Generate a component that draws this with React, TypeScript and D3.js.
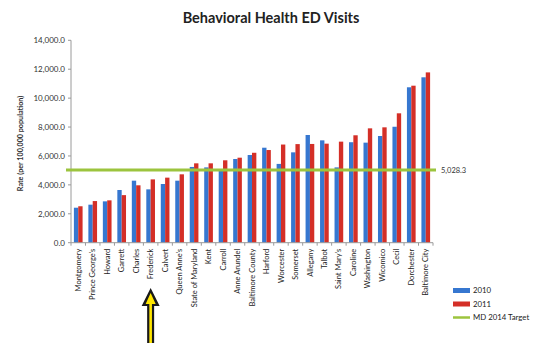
import React from "react";
import * as d3 from "d3";

const categories = [
  "Montgomery", "Prince George's", "Howard", "Garrett", "Charles", "Frederick",
  "Calvert", "Queen Anne's", "State of Maryland", "Kent", "Carroll", "Anne Arundel",
  "Baltimore County", "Harford", "Worcester", "Somerset", "Allegany", "Talbot",
  "Saint Mary's", "Caroline", "Washington", "Wicomico", "Cecil", "Dorchester",
  "Baltimore City",
];
const values2010 = [
  2420, 2630, 2860, 3645, 4290, 3690, 4060, 4290, 5240, 5210, 5050, 5790,
  6065, 6570, 5450, 6250, 7450, 7080, 5210, 6950, 6920, 7380, 8020, 10750, 11440,
];
const values2011 = [
  2520, 2880, 2930, 3290, 3970, 4380, 4500, 4730, 5490, 5490, 5700, 5880,
  6220, 6410, 6790, 6820, 6830, 6850, 6990, 7430, 7910, 7980, 8950, 10860, 11780,
];
const targetValue = 5028.3;
const yTicks = [0, 2000, 4000, 6000, 8000, 10000, 12000, 14000];
const seriesNames = ["2010", "2011", "MD 2014 Target"];
const highlighted = "Frederick";

const W = 538;
const H = 351;
const plot = { left: 71, right: 433, top: 40.3, bottom: 242.7 };
const FONT = "Lato, 'Liberation Sans', sans-serif";
const BLUE = "#3677d0";
const RED = "#d42f27";
const GREEN = "#9cc43e";

export default function App() {
  const x0 = d3.scaleBand<string>().domain(categories).range([plot.left, plot.right]).paddingInner(0.4).paddingOuter(0.2);
  const x1 = d3.scaleBand<string>().domain(["2010", "2011"]).range([0, x0.bandwidth()]);
  const y = d3.scaleLinear().domain([0, 14000]).range([plot.bottom, plot.top]);
  const fmt = d3.format(",.1f");
  const bounds = d3.range(categories.length + 1).map((i) => plot.left + i * ((plot.right - plot.left) / categories.length));
  const center = (c: string) => (x0(c) as number) + x0.bandwidth() / 2;
  const arrowX = center(highlighted);
  const rows = categories.map((c, i) => ({ c, a: values2010[i], b: values2011[i] }));

  return (
    <div style={{ margin: -8 }}>
      <svg width={W} height={H} style={{ display: "block", background: "#fff" }}>
        <path d={`M3.5,${H - 30} V3.5 H${W - 3.5} V${H - 30}`} fill="none" stroke="#ececec" />
        <text x={271} y={23} textAnchor="middle" fontFamily={FONT} fontWeight={700} fontSize={14.5} fill="#222">
          Behavioral Health ED Visits
        </text>

        {/* value axis */}
        <line x1={plot.left} x2={plot.left} y1={plot.top} y2={plot.bottom} stroke="#9a9a9a" />
        {yTicks.map((t) => (
          <g key={t}>
            <line x1={plot.left - 3} x2={plot.left} y1={y(t)} y2={y(t)} stroke="#9a9a9a" />
            <text x={65} y={y(t)} dy="0.35em" textAnchor="end" fontFamily={FONT} fontSize={8} fill="#333">
              {fmt(t)}
            </text>
          </g>
        ))}
        <text transform={`translate(23,${(plot.top + plot.bottom) / 2 + 2}) rotate(-90)`} textAnchor="middle" fontFamily={FONT} fontWeight={700} fontSize={7.2} fill="#333">
          Rate (per 100,000 population)
        </text>

        {/* bars */}
        {rows.map((r) => (
          <g key={r.c} transform={`translate(${x0(r.c)},0)`}>
            <rect x={x1("2010")} y={y(r.a)} width={x1.bandwidth()} height={y(0) - y(r.a)} fill={BLUE} />
            <rect x={x1("2011")} y={y(r.b)} width={x1.bandwidth()} height={y(0) - y(r.b)} fill={RED} />
          </g>
        ))}

        {/* category axis */}
        <line x1={plot.left} x2={plot.right} y1={plot.bottom} y2={plot.bottom} stroke="#9a9a9a" />
        {bounds.map((bx, i) => (
          <line key={i} x1={bx} x2={bx} y1={plot.bottom} y2={plot.bottom + 3} stroke="#9a9a9a" />
        ))}
        {categories.map((c) => (
          <text key={c} transform={`translate(${center(c) + 2.6},${plot.bottom + 6}) rotate(-90)`} textAnchor="end" fontFamily={FONT} fontSize={7.5} fill="#222">
            {c}
          </text>
        ))}

        {/* target */}
        <line x1={plot.left - 5} x2={plot.right + 3} y1={y(targetValue)} y2={y(targetValue)} stroke={GREEN} strokeWidth={3} />
        <text x={plot.right + 8} y={y(targetValue)} dy="0.35em" fontFamily={FONT} fontSize={7.5} fill="#333">
          {fmt(targetValue)}
        </text>

        {/* legend */}
        {seriesNames.map((s, i) => (
          <g key={s} transform={`translate(453,${290.5 + i * 13.5})`}>
            {i < 2 ? (
              <rect x={0} y={-2.5} width={17} height={5} fill={i === 0 ? BLUE : RED} />
            ) : (
              <line x1={0} x2={17} y1={0} y2={0} stroke={GREEN} strokeWidth={2.5} />
            )}
            <text x={20} y={0} dy="0.35em" fontFamily={FONT} fontSize={7.8} fill="#222">
              {s}
            </text>
          </g>
        ))}

        {/* arrow pointing at the highlighted county */}
        <path
          d={`M${arrowX},288 L${arrowX + 9},306 L${arrowX + 3.5},306 L${arrowX + 3.5},347 L${arrowX - 3.5},347 L${arrowX - 3.5},306 L${arrowX - 9},306 Z`}
          fill="#1a1a1a"
        />
        <path
          d={`M${arrowX},293 L${arrowX + 5},304 L${arrowX + 1.3},304 L${arrowX + 1.3},345 L${arrowX - 1.3},345 L${arrowX - 1.3},304 L${arrowX - 5},304 Z`}
          fill="#ffe600"
        />
      </svg>
    </div>
  );
}
